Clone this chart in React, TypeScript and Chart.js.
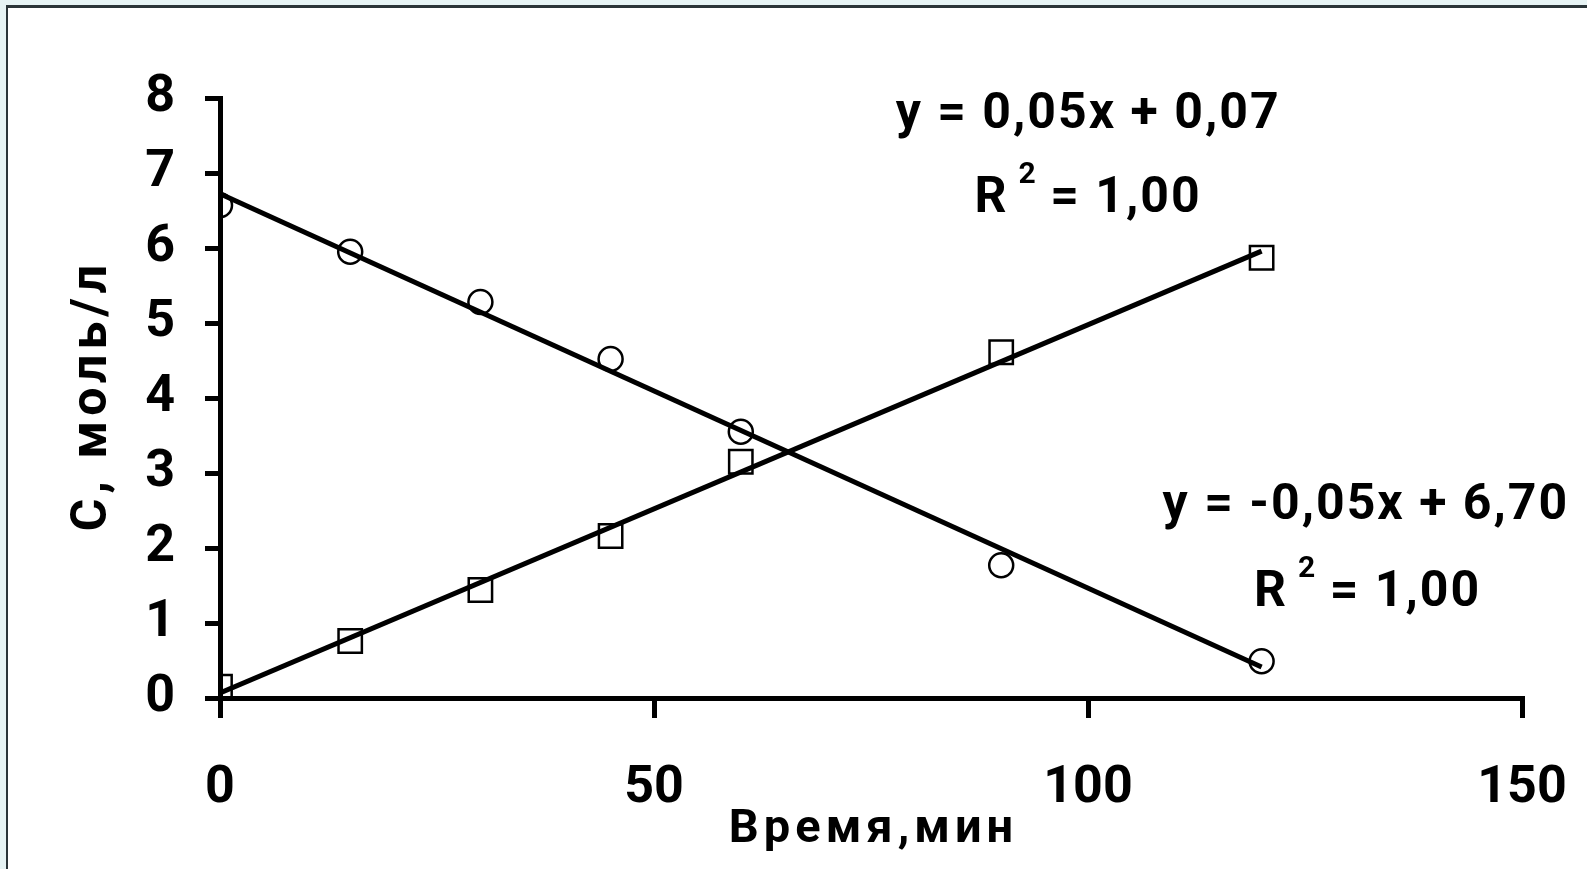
import React, { useEffect, useRef } from "react";
import { Chart, registerables } from "chart.js";

Chart.register(...registerables);

const timeMin = [0, 15, 30, 45, 60, 90, 120];
const circleSeries = [6.57, 5.95, 5.28, 4.52, 3.55, 1.77, 0.49];
const squareSeries = [0.15, 0.76, 1.44, 2.16, 3.15, 4.61, 5.87];
const xTicks = [0, 50, 100, 150];
const yTicks = [0, 1, 2, 3, 4, 5, 6, 7, 8];
const xTitle = "Время,мин";
const yTitle = "С, моль/л";
const eqSquares = { eq: "y = 0,05x + 0,07", r2: " = 1,00", at: [99.9, 7.84], atR: [99.9, 6.72] };
const eqCircles = { eq: "y = -0,05x + 6,70", r2: " = 1,00", at: [131.9, 2.63], atR: [132.1, 1.47] };

function fit(xs: number[], ys: number[]) {
  const n = xs.length;
  const mx = xs.reduce((a, b) => a + b, 0) / n;
  const my = ys.reduce((a, b) => a + b, 0) / n;
  let sxy = 0, sxx = 0;
  for (let i = 0; i < n; i++) {
    sxy += (xs[i] - mx) * (ys[i] - my);
    sxx += (xs[i] - mx) ** 2;
  }
  const k = sxy / sxx;
  return { k, b: my - k * mx };
}

const FONT = "Roboto";
const CAP = 0.711;

export default function App() {
  const ref = useRef<HTMLCanvasElement>(null);
  useEffect(() => {
    const xs = timeMin;
    const x0 = xs[0];
    const x1 = xs[xs.length - 1];
    const fc = fit(xs, circleSeries);
    const fs = fit(xs, squareSeries);
    const annot = {
      id: "annot",
      afterDatasetsDraw(chart: any) {
        const ctx = chart.ctx;
        const sx = chart.scales.x;
        const sy = chart.scales.y;
        const area = chart.chartArea;
        ctx.save();
        ctx.fillStyle = "#000";
        ctx.textBaseline = "alphabetic";
        ctx.textAlign = "left";
        const eqSize = 50;
        for (const e of [eqSquares, eqCircles]) {
          ctx.font = `bold ${eqSize}px ${FONT}`;
          (ctx as any).letterSpacing = "2px";
          const w = ctx.measureText(e.eq).width - 2;
          const cx0 = sx.getPixelForValue(e.at[0]);
          const cy0 = sy.getPixelForValue(e.at[1]);
          ctx.fillText(e.eq, cx0 - w / 2, cy0 + (eqSize * CAP) / 2);
          // R^2 line
          const cx = sx.getPixelForValue(e.atR[0]);
          const cy = sy.getPixelForValue(e.atR[1]) + (eqSize * CAP) / 2;
          (ctx as any).letterSpacing = "0px";
          const wR = ctx.measureText("R").width;
          (ctx as any).letterSpacing = "2px";
          const wRest = ctx.measureText(e.r2).width - 2;
          ctx.font = `bold 30px ${FONT}`;
          (ctx as any).letterSpacing = "0px";
          const wSup = ctx.measureText("2").width;
          const gap = 12;
          const total = wR + gap + wSup + wRest;
          let x = cx - total / 2;
          ctx.font = `bold ${eqSize}px ${FONT}`;
          ctx.fillText("R", x, cy);
          x += wR + gap;
          ctx.font = `bold 30px ${FONT}`;
          ctx.fillText("2", x, cy - 29);
          x += wSup;
          ctx.font = `bold ${eqSize}px ${FONT}`;
          (ctx as any).letterSpacing = "2px";
          ctx.fillText(e.r2, x, cy);
        }
        // axis titles
        const tSize = 47;
        ctx.font = `bold ${tSize}px ${FONT}`;
        (ctx as any).letterSpacing = "5px";
        const wx = ctx.measureText(xTitle).width - 5;
        ctx.fillText(xTitle, (area.left + area.right) / 2 - wx / 2, 825 + (tSize * CAP) / 2);
        const ySize = 50;
        ctx.font = `bold ${ySize}px ${FONT}`;
        (ctx as any).letterSpacing = "5px";
        const wy = ctx.measureText(yTitle).width - 5;
        ctx.translate(88 + (ySize * CAP) / 2, (area.top + area.bottom) / 2);
        ctx.rotate(-Math.PI / 2);
        ctx.fillText(yTitle, -wy / 2, 0);
        ctx.restore();
      },
    };
    const chart = new Chart(ref.current!, {
      type: "scatter",
      data: {
        datasets: [
          {
            type: "line",
            data: [
              { x: x0, y: fc.k * x0 + fc.b },
              { x: x1, y: fc.k * x1 + fc.b },
            ],
            borderColor: "#000",
            borderWidth: 5,
            pointRadius: 0,
            order: 0,
          },
          {
            type: "line",
            data: [
              { x: x0, y: fs.k * x0 + fs.b },
              { x: x1, y: fs.k * x1 + fs.b },
            ],
            borderColor: "#000",
            borderWidth: 5,
            pointRadius: 0,
            order: 0,
          },
          {
            data: xs.map((x, i) => ({ x, y: circleSeries[i] })),
            pointStyle: "circle",
            pointRadius: 12,
            borderWidth: 2.5,
            borderColor: "#000",
            backgroundColor: "rgba(0,0,0,0)",
            order: 1,
          },
          {
            data: xs.map((x, i) => ({ x, y: squareSeries[i] })),
            pointStyle: "rect",
            pointRadius: 16.5,
            borderWidth: 2.5,
            borderColor: "#000",
            backgroundColor: "rgba(0,0,0,0)",
            order: 1,
          },
        ],
      },
      options: {
        responsive: false,
        animation: false,
        events: [],
        layout: { padding: { left: 0, top: 98, right: 65, bottom: 0 } },
        plugins: { legend: { display: false }, tooltip: { enabled: false } },
        scales: {
          x: {
            type: "linear",
            min: 0,
            max: 150,
            afterBuildTicks: (s: any) => {
              s.ticks = xTicks.map((v) => ({ value: v }));
            },
            afterFit: (s: any) => {
              s.height = 171;
              s.paddingLeft = 0;
              s.paddingRight = 0;
            },
            ticks: {
              color: "#000",
              font: { family: FONT, size: 52, weight: "bold" },
              padding: 40,
              maxRotation: 0,
            },
            grid: { drawOnChartArea: false, drawTicks: true, tickLength: 20, lineWidth: 5, color: "#000" },
            border: { display: true, width: 5, color: "#000" },
          },
          y: {
            type: "linear",
            min: 0,
            max: 8,
            afterBuildTicks: (s: any) => {
              s.ticks = yTicks.map((v) => ({ value: v }));
            },
            afterFit: (s: any) => {
              s.width = 220;
              s.paddingTop = 0;
              s.paddingBottom = 0;
            },
            ticks: {
              color: "#000",
              font: { family: FONT, size: 52, weight: "bold" },
              padding: 30,
            },
            grid: { drawOnChartArea: false, drawTicks: true, tickLength: 15, lineWidth: 5, color: "#000" },
            border: { display: true, width: 5, color: "#000" },
          },
        },
      },
      plugins: [annot],
    } as any);
    return () => chart.destroy();
  }, []);
  return (
    <div style={{ position: "fixed", left: 0, top: 0, width: 1587, height: 869, background: "#e6f3f4", overflow: "hidden" }}>
      <div
        style={{
          position: "absolute",
          left: 6,
          top: 5,
          width: 1587,
          height: 869,
          background: "#fff",
          borderLeft: "2px solid #2a3438",
          borderTop: "3px solid #2a3438",
        }}
      />
      <canvas ref={ref} width={1587} height={869} style={{ position: "absolute", left: 0, top: 0 }} />
    </div>
  );
}
